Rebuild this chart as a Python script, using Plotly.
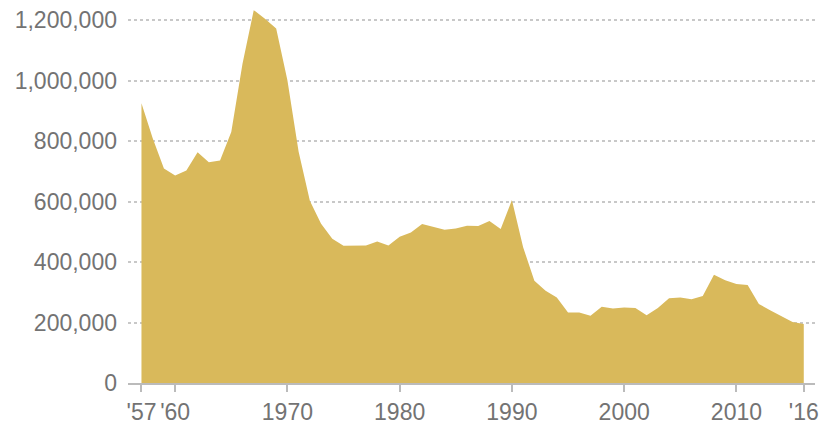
import plotly.graph_objects as go

years = list(range(1957, 2017))
values = [
    925000, 809000, 709000, 686000, 703000, 763000, 730000, 736000, 830000, 1056000,
    1233000, 1205000, 1172000, 1001000, 765000, 603000, 527000, 477000, 454000, 454000,
    455000, 468000, 455000, 484000, 498000, 526000, 517000, 507000, 511000, 520000,
    519000, 536000, 509000, 605000, 449000, 338000, 305000, 283000, 233000, 233000,
    222000, 252000, 246000, 250000, 248000, 224000, 248000, 280000, 283000, 277000,
    288000, 358000, 340000, 327000, 324000, 261000, 241000, 222000, 202000, 195000,
]
x_tick_vals = [1957, 1960, 1970, 1980, 1990, 2000, 2010, 2016]
x_tick_text = ["'57", "'60", "1970", "1980", "1990", "2000", "2010", "'16"]
y_tick_vals = [0, 200000, 400000, 600000, 800000, 1000000, 1200000]
y_tick_text = ["0", "200,000", "400,000", "600,000", "800,000", "1,000,000", "1,200,000"]

fig = go.Figure()
fig.add_trace(go.Scatter(
    x=years, y=values, mode="lines", fill="tozeroy",
    line=dict(color="#D9B95B", width=0), fillcolor="#D9B95B",
    hoverinfo="x+y",
))

font = dict(family="Liberation Sans, Arial, sans-serif", size=23, color="#737373")
fig.update_layout(
    width=821, height=424,
    margin=dict(l=128, r=6, t=2, b=41),
    paper_bgcolor="white", plot_bgcolor="white",
    showlegend=False,
    font=font,
    xaxis=dict(
        range=[1955.8, 2017], tickmode="array", tickvals=x_tick_vals, ticktext=x_tick_text,
        showgrid=False, zeroline=False, showline=True, linecolor="#bbbbbb", linewidth=1.5,
        ticks="outside", ticklen=7, tickcolor="#bbbbbb", tickwidth=1.5,
        tickfont=font, automargin=False, ticklabelstandoff=1,
    ),
    yaxis=dict(
        range=[0, 1260000], tickmode="array", tickvals=y_tick_vals, ticktext=y_tick_text,
        showgrid=True, gridcolor="#c8c8c8", griddash="dot", gridwidth=1.5,
        zeroline=False, showline=False, ticks="", ticklabelstandoff=10,
        tickfont=font, automargin=False,
    ),
)

fig.write_html("out.html", config={"displayModeBar": False},
               post_script="document.body.style.margin='0';document.body.style.overflow='hidden';")
